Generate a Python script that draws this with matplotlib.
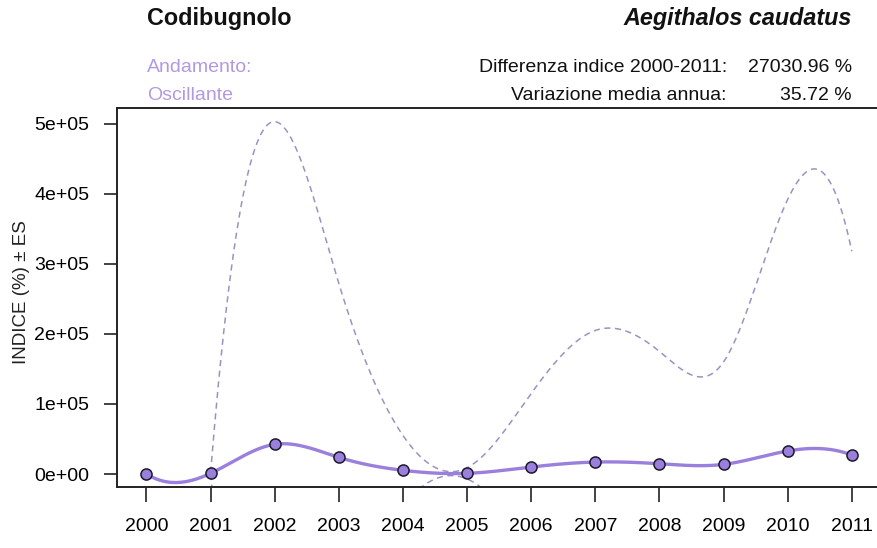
import numpy as np
import matplotlib
matplotlib.use("Agg")
import matplotlib.pyplot as plt

plt.rcParams['font.family'] = ['Liberation Sans', 'DejaVu Sans']

# Annual index values (base year 2000 = 100)
years = [2000, 2001, 2002, 2003, 2004, 2005, 2006, 2007, 2008, 2009, 2010, 2011]
index_values = [100, 1000, 42400, 23800, 5300, 1000, 10000, 17100, 14700, 13800, 32900, 27131]

# Upper limit of the band (no error for the base year)
band_years = [2001, 2002, 2003, 2004, 2005, 2006, 2007, 2008, 2009, 2010, 2011]
upper_values = [2000, 503000, 272000, 55000, 9000, 115000, 205000, 175000, 160000, 392000, 318000]
# symmetric band: lower = index - (upper - index)
lower_values = [2 * i - u for i, u in zip(index_values[1:], upper_values)]

y_ticks = [0, 100000, 200000, 300000, 400000, 500000]
y_tick_labels = ["0e+00", "1e+05", "2e+05", "3e+05", "4e+05", "5e+05"]

species_common = "Codibugnolo"
species_latin = "Aegithalos caudatus"
trend_label = "Andamento:"
trend_value = "Oscillante"
stat_labels = ["Differenza indice 2000-2011:", "Variazione media annua:"]
stat_values = ["27030.96 %", "35.72 %"]


def fmm_spline(x, y, n_out=500):
    """Cubic interpolating spline with Forsythe-Malcolm-Moler end conditions."""
    x = np.asarray(x, float)
    y = np.asarray(y, float)
    n = len(x)
    nm1 = n - 1
    b = np.zeros(n)
    c = np.zeros(n)
    d = np.zeros(n)
    d[:nm1] = x[1:] - x[:-1]
    b[0] = -d[0]
    c[1] = (y[1] - y[0]) / d[0]
    for i in range(1, nm1):
        b[i] = 2 * (d[i - 1] + d[i])
        c[i + 1] = (y[i + 1] - y[i]) / d[i]
        c[i] = c[i + 1] - c[i]
    b[nm1] = -d[nm1 - 1]
    c[0] = 0.0
    c[nm1] = 0.0
    if n > 3:
        c[0] = c[2] / (x[3] - x[1]) - c[1] / (x[2] - x[0])
        c[nm1] = c[nm1 - 1] / (x[nm1] - x[nm1 - 2]) - c[nm1 - 2] / (x[nm1 - 1] - x[nm1 - 3])
        c[0] = c[0] * d[0] * d[0] / (x[3] - x[0])
        c[nm1] = -c[nm1] * d[nm1 - 1] * d[nm1 - 1] / (x[nm1] - x[nm1 - 3])
    for i in range(1, n):
        t = d[i - 1] / b[i - 1]
        b[i] = b[i] - t * d[i - 1]
        c[i] = c[i] - t * c[i - 1]
    c[nm1] = c[nm1] / b[nm1]
    for i in range(nm1 - 1, -1, -1):
        c[i] = (c[i] - d[i] * c[i + 1]) / b[i]
    b[nm1] = (y[nm1] - y[n - 2]) / d[n - 2] + d[n - 2] * (c[n - 2] + 2 * c[nm1])
    for i in range(nm1):
        b[i] = (y[i + 1] - y[i]) / d[i] - d[i] * (c[i + 1] + 2 * c[i])
        d[i] = (c[i + 1] - c[i]) / d[i]
        c[i] = 3 * c[i]
    c[nm1] = 3 * c[nm1]
    d[nm1] = d[n - 2]

    xs = np.linspace(x[0], x[-1], n_out)
    idx = np.clip(np.searchsorted(x, xs, side="right") - 1, 0, nm1)
    dx = xs - x[idx]
    ys = y[idx] + dx * (b[idx] + dx * (c[idx] + dx * d[idx]))
    return xs, ys


W, H = 878, 548
fig = plt.figure(figsize=(W / 100, H / 100), dpi=100)
ax_left, ax_right = 117, 880
ax_top, ax_bottom = 108, 487
ax = fig.add_axes([ax_left / W, (H - ax_bottom) / H,
                   (ax_right - ax_left) / W, (ax_bottom - ax_top) / H])

band_color = "#9a93c2"
line_color = "#9a7fdc"

for vals in (upper_values, lower_values):
    xs, ys = fmm_spline(band_years, vals)
    ax.plot(xs, ys, color=band_color, lw=1.1, linestyle=(0, (4, 3)), zorder=2)

xs, ys = fmm_spline(years, index_values)
ax.plot(xs, ys, color=line_color, lw=2.4, solid_capstyle="round", zorder=3)
ax.plot(years, index_values, "o", ms=8, mfc="#9a7fdc", mec="#1a1a2a", mew=1.1, zorder=4)

ax.set_xlim(1999.54, 2011.44)
ax.set_ylim(-18500, 522500)

ax.set_xticks(years)
ax.set_xticklabels([str(y) for y in years], fontsize=14)
ax.set_yticks(y_ticks)
ax.set_yticklabels(y_tick_labels, fontsize=14)
ax.tick_params(axis="x", length=11, width=1.2, pad=11.5, color="#222222")
ax.tick_params(axis="y", length=9.5, width=1.2, pad=10.5, color="#222222")
for s in ax.spines.values():
    s.set_linewidth(1.4)
    s.set_color("#222222")

fig.text(22 / W, 1 - 292 / H, "INDICE (%) ± ES", rotation=90, fontsize=13.5,
         ha="center", va="center", color="#222222")

# Header
fig.text(147 / W, 1 - 18 / H, species_common, fontsize=16.8, fontweight="bold",
         ha="left", va="center", color="#111111")
fig.text(852 / W, 1 - 18 / H, species_latin, fontsize=16.8, fontweight="bold",
         style="italic", ha="right", va="center", color="#111111")
fig.text(147 / W, 1 - 68 / H, trend_label, fontsize=14, ha="left", va="center",
         color="#b39ae0")
fig.text(147 / W, 1 - 95 / H, trend_value, fontsize=14, ha="left", va="center",
         color="#b39ae0")
for k, (lab, val) in enumerate(zip(stat_labels, stat_values)):
    yy = 1 - (68 + 27 * k) / H
    fig.text(727 / W, yy, lab, fontsize=14, ha="right", va="center", color="#111111")
    fig.text(852 / W, yy, val, fontsize=14, ha="right", va="center", color="#111111")

fig.savefig("out.png", dpi=100)
